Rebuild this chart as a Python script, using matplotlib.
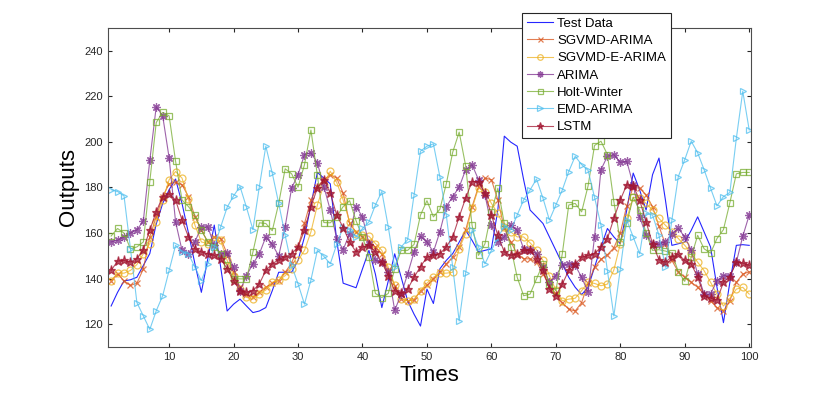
import numpy as np
import matplotlib
matplotlib.use("Agg")
import matplotlib.pyplot as plt

plt.rcParams['font.family'] = ['Liberation Sans', 'DejaVu Sans']

times = np.arange(1, 101)

test_data = [128, 134, 139, 139.5, 140.6, 145.8, 151, 164, 173, 179,
             183.7, 173, 160, 146.5, 134, 148.7, 163.5, 145, 125.8, 128.8,
             131, 128, 125.1, 125.8, 127.3, 134.7, 142.8, 142.8, 142.8, 148,
             158.3, 172.3, 186.6, 184.1, 181.6, 156.8, 138, 137, 136, 144.3,
             152.4, 142, 127.3, 139, 150.9, 140.6, 130.3, 124.4, 119.2, 135.4,
             129.1, 144.3, 148, 151, 156, 161.2, 156.8, 151.7, 152.4, 153.1,
             170.1, 202.5, 199.9, 198.1, 183.4, 170.1, 167.2, 164.2, 158.3, 152.4,
             146.5, 140.6, 136.2, 133, 136.2, 145, 153.9, 162, 158.3, 155.3,
             170.1, 186.3, 178.9, 170.1, 185.6, 192.9, 174.5, 154.6, 155.3, 156.1,
             161.2, 167.1, 160.5, 153.9, 136.2, 120.7, 138.4, 154.6, 154.9, 154.6]

sgvmd_arima = [139.1, 142.1, 139, 137, 138, 144.3, 158.3, 167.2, 176, 181.6,
               182.2, 181.2, 176, 167.2, 161.3, 156.1, 158.3, 157.6, 150.9, 142.8,
               136.2, 132.9, 132, 134, 136.2, 138, 139.1, 142.8, 146.8, 153.9,
               164.2, 174.5, 180.4, 183.4, 185.6, 184.1, 177.5, 164.2, 160.5, 158.3,
               156.1, 153.9, 150.9, 143.6, 136.9, 131, 130.3, 130.6, 134.7, 137,
               140, 142.8, 146.5, 149.5, 153.9, 161.3, 171.6, 180.4, 184.1, 183.4,
               174.5, 162, 156.1, 150.9, 148.7, 148.7, 147.3, 142.1, 136.9, 133.2,
               129.5, 126.6, 125.8, 129.5, 138, 145, 148.5, 150.5, 153.5, 160,
               172, 180.1, 179.7, 176.7, 171.6, 163, 155, 148, 143, 140.5,
               138.4, 136.2, 133.2, 130.3, 127.3, 125.8, 130.3, 138.4, 142, 143]

sgvmd_e_arima = [139.1, 142.4, 142.4, 143.6, 146.2, 150.9, 155.4, 165, 174.5, 183.4,
                 187, 184.1, 174.8, 163.5, 156.1, 155.4, 156.8, 156.8, 148, 141.3,
                 135.4, 131.8, 131, 133.2, 135, 138.4, 139.4, 141.3, 144.3, 148,
                 152.4, 160.5, 172.3, 181.2, 187.1, 182.2, 174.5, 164.9, 159.8, 159,
                 158.6, 155.4, 152.4, 145, 137.2, 131, 130.3, 131, 134.7, 138,
                 140.6, 142.4, 142.4, 142.8, 153.1, 159.8, 170.8, 179.7, 178.2, 173,
                 168.6, 162.7, 160.5, 158.3, 158.3, 155.7, 152.7, 148, 141.3, 135,
                 130.3, 131, 131.4, 134.7, 138.4, 137.9, 136.9, 137.6, 143.8, 155.3,
                 166.4, 175.7, 175.3, 173, 170.1, 166.4, 163.4, 160.5, 157.6, 154.6,
                 151.2, 147.2, 143.5, 138.4, 133.2, 128, 131.4, 135.4, 136.2, 133.2]

arima = [156.1, 156.8, 158.3, 160, 161.3, 165.4, 191.9, 215.5, 211.4, 193,
         164.9, 152.4, 150.9, 156.1, 162.7, 162.7, 154.6, 150.9, 151.2, 145,
         134.7, 141.3, 146.5, 150.9, 158.3, 155, 150, 162.7, 179.7, 185.6,
         194.4, 195.2, 190.8, 180.4, 170.1, 157.6, 152.7, 159.8, 171.6, 167.1,
         155.4, 148, 147.3, 142.8, 126.1, 133.2, 142, 151.7, 158.6, 156.1,
         151.7, 160.5, 171.6, 176, 180.1, 187.8, 190, 183.4, 176.7, 163.4,
         156.1, 158.3, 163.5, 161.2, 153.1, 152.4, 150.9, 145, 138.4, 141.3,
         145.8, 146.5, 145.8, 140.6, 134, 158.3, 187.8, 193.7, 194.4, 191,
         191.5, 181.2, 167.1, 159, 155.3, 155, 156.1, 159.8, 162, 158.3,
         152.4, 142, 133.2, 133.2, 139.1, 141.3, 141.3, 147.2, 158.6, 167.9]

holt_winter = [158.7, 162, 160, 153.1, 153.9, 156.1, 182.6, 208.5, 212.9, 211.4,
               191.5, 174.5, 171.6, 167.9, 161.3, 156.1, 153.9, 150.9, 145.8, 139.9,
               139.9, 139.9, 151.7, 164.5, 164.2, 161, 173, 188.2, 186, 180.1,
               190, 205.2, 185.3, 164.6, 164.5, 167.2, 171.6, 174.2, 165.4, 158.3,
               149.5, 133.5, 131.7, 133.5, 144.3, 152.4, 152.4, 155, 167.9, 174.2,
               167.1, 170.4, 181.6, 195.5, 204.3, 189.6, 163.4, 150.2, 155.3, 169.3,
               179.7, 164.2, 153.9, 140.6, 132.5, 133.2, 139.9, 146.5, 137.6, 134.7,
               150.9, 172.3, 173, 169.3, 180.7, 198.4, 200.3, 194.4, 173.8, 156.1,
               164.2, 175.7, 170, 160, 152.4, 152.7, 152.1, 151.2, 143, 138.8,
               149.4, 159, 153.1, 151.2, 157.6, 161.5, 173.3, 186, 186.6, 186.6]

emd_arima = [179, 178.2, 176.3, 153.1, 129.5, 123.6, 117.7, 125.9, 132.5, 143.6,
             154.6, 151.7, 150.9, 145, 139.1, 146.5, 153.9, 162.7, 171.3, 176.3,
             180.4, 171.3, 161.5, 180.4, 198.1, 186.3, 173, 159, 145.8, 137.7,
             128.8, 139.4, 152.4, 149.8, 146.5, 155, 162.7, 161.5, 158.3, 162,
             164.9, 172.3, 178.2, 162.7, 145, 153.9, 157.1, 176.7, 195.9, 198.1,
             199.1, 184.8, 167.9, 145, 121.4, 142.4, 161.2, 153.9, 146.5, 152.4,
             158, 163, 161.3, 167.9, 174.5, 178.9, 183.7, 175.3, 165.7, 172.3,
             178.9, 187, 193.7, 190, 187.5, 175.7, 163.5, 143.5, 123.6, 144.3,
             165.7, 158.3, 150.9, 168.6, 167.9, 159, 145, 165.7, 184.8, 192.2,
             200.3, 195.2, 187.8, 179.7, 171.9, 176, 177.8, 201.5, 222.2, 205.2]

lstm = [143.6, 147.7, 148, 147.3, 148.7, 152.7, 161.3, 169.4, 176, 177.2,
        174.5, 165.7, 158.3, 153.1, 151.7, 150.9, 150.2, 148.7, 144.3, 139.1,
        134.7, 134, 134.7, 137.7, 143.6, 146.5, 148.3, 149.5, 150.9, 153.9,
        161.3, 171.6, 179.7, 183.4, 177.5, 167.9, 162.4, 156.1, 151.7, 153.9,
        154.6, 151.7, 147.2, 141.3, 134.7, 133.5, 135.4, 140.6, 145.3, 149.4,
        150.2, 150.9, 153.9, 158.3, 167.1, 175.3, 182.6, 182.6, 177.5, 167.9,
        159, 151.7, 150.2, 150.9, 152.4, 152.4, 148.7, 143.6, 135.4, 132.5,
        137.6, 143.6, 146.5, 149.4, 150.2, 150.9, 153.9, 157.6, 166.4, 174.5,
        181.2, 180.7, 174.5, 164.9, 155.3, 148.3, 147.2, 149.7, 150.6, 148,
        146.5, 140.6, 132.5, 131.5, 130.6, 138.4, 140.9, 147.2, 146.8, 145.8]

# marker: asterisk (8 spokes) for ARIMA, five-point star for LSTM
series = [
    ('Test Data', test_data, '#0000ff', None, 0),
    ('SGVMD-ARIMA', sgvmd_arima, '#d95319', 'x', 4.5),
    ('SGVMD-E-ARIMA', sgvmd_e_arima, '#edb120', 'o', 5),
    ('ARIMA', arima, '#7e2f8e', (8, 2, 0), 6),
    ('Holt-Winter', holt_winter, '#77ac30', 's', 4.5),
    ('EMD-ARIMA', emd_arima, '#4dbeee', '>', 5),
    ('LSTM', lstm, '#a2142f', '*', 6.5),
]

fig = plt.figure(figsize=(8.3, 3.93), dpi=100)
ax = fig.add_axes([0.130, 0.117, 0.775, 0.812])

handles = []
for name, vals, col, mk, ms in series:
    if mk is None:
        h, = ax.plot(times, vals, color=col, lw=0.8, alpha=0.85, label=name)
    else:
        h, = ax.plot(times, vals, color=col, lw=0.8, alpha=0.75, marker=mk,
                     markersize=ms, markerfacecolor='none' if mk in ('o', 's', '>') else col,
                     markeredgewidth=0.9, label=name)
    handles.append(h)

ax.set_xlim(0.5, 100.3)
ax.set_ylim(110, 250)
ax.set_xticks(np.arange(10, 101, 10))
ax.set_yticks(np.arange(120, 241, 20))
ax.tick_params(direction='in', length=3, labelsize=8, colors='#262626', top=True, right=True)
for sp in ax.spines.values():
    sp.set_color('#4d4d4d')
    sp.set_linewidth(0.8)

ax.set_xlabel('Times', fontsize=16, labelpad=2)
ax.set_ylabel('Outputs', fontsize=16, labelpad=4)

leg = fig.legend(handles=handles, loc='upper left', bbox_to_anchor=(0.629, 0.967),
                 borderaxespad=0, fontsize=9.5, frameon=True, fancybox=False, framealpha=1,
                 edgecolor='#262626', markerscale=0.8, handlelength=2.0,
                 handletextpad=0.3, borderpad=0.35, labelspacing=0.38, numpoints=1)
leg.get_frame().set_linewidth(0.8)

fig.savefig('out.png', dpi=100)
